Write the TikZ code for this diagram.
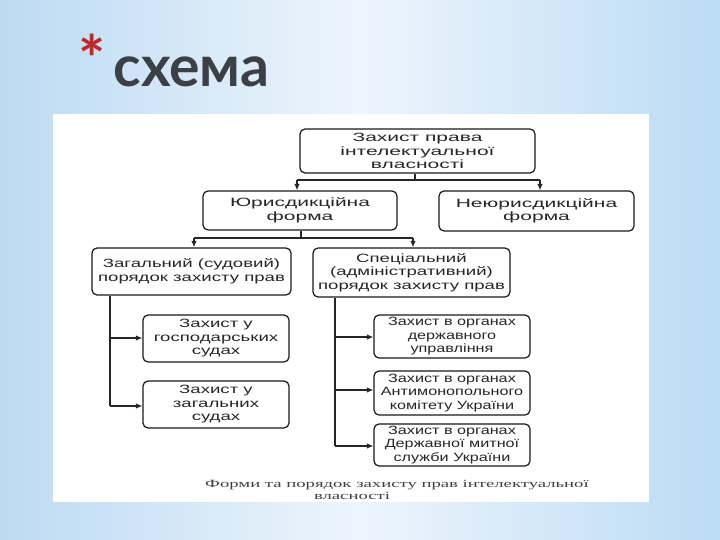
\documentclass[tikz,border=0pt]{standalone}
\usepackage{fontspec}
\setmainfont{Liberation Sans}
\newfontfamily\fbig[FakeStretch=1.75]{Liberation Sans}
\newfontfamily\fmed[FakeStretch=1.55]{Liberation Sans}
\newfontfamily\fsmall[FakeStretch=1.35]{Liberation Sans}
\newfontfamily\fcap[FakeStretch=1.7]{Liberation Serif}
\newfontfamily\ftitle{Lato}
\usetikzlibrary{arrows.meta}
\definecolor{bgL}{HTML}{BDDAF3}
\definecolor{bgM}{HTML}{EDF5FC}
\definecolor{bgR}{HTML}{BCDBF5}
\definecolor{titlegray}{HTML}{3B4046}
\definecolor{starred}{HTML}{C0272D}
\tikzset{
  box/.style={draw=black!90, line width=1.2pt, rounded corners=5pt, align=center,
    inner sep=0pt, text=black!85},
  big/.style={box, font=\fbig\fontsize{12}{13.5}\selectfont},
  med/.style={box, font=\fmed\fontsize{12}{13.5}\selectfont},
  small/.style={box, font=\fsmall\fontsize{12}{13.5}\selectfont},
  con/.style={line width=1.2pt, draw=black!85},
  arr/.style={con, -{Latex[length=6.5pt,width=5.5pt]}},
}
\begin{document}
\begin{tikzpicture}[x=1pt,y=-1pt]
\useasboundingbox (0,0) rectangle (720,540);
\shade[left color=bgL, right color=bgR, middle color=bgM] (0,0) rectangle (720,540);
\fill[white] (53,114) rectangle (649,502);
% title
\node[text=starred, font=\ftitle\bfseries\fontsize{64}{64}\selectfont] (star) at (92,58) {*};
\node[anchor=base west, text=titlegray, font=\ftitle\bfseries\fontsize{57}{57}\selectfont] (title) at (110,87) {схема};
% boxes
\node[big, minimum width=235pt, minimum height=44pt] (b1) at (417.5,151) {Захист права\\інтелектуальної\\власності};
\node[big, minimum width=194pt, minimum height=39pt] (b2) at (300,210.5) {Юрисдикційна\\форма};
\node[big, minimum width=195pt, minimum height=40pt] (b3) at (536.5,211) {Неюрисдикційна\\форма};
\node[med, minimum width=199pt, minimum height=47pt] (b4) at (191.5,271.5) {Загальний (судовий)\\порядок захисту прав};
\node[med, minimum width=197pt, minimum height=49pt] (b5) at (411.5,272.5) {Спеціальний\\(адміністративний)\\порядок захисту прав};
\node[med, minimum width=146pt, minimum height=47pt] (b6) at (216,338.5) {Захист у\\господарських\\судах};
\node[med, minimum width=146pt, minimum height=47pt] (b7) at (216,404.5) {Захист у\\загальних\\судах};
\node[small, minimum width=156pt, minimum height=43pt] (b8) at (452,336.5) {Захист в органах\\державного\\управління};
\node[small, minimum width=156pt, minimum height=44pt] (b9) at (452,393) {Захист в органах\\Антимонопольного\\комітету України};
\node[small, minimum width=156pt, minimum height=42pt] (b10) at (452,445) {Захист в органах\\Державної митної\\служби України};
% caption
\node[text=black!75, font=\fcap\fontsize{11}{12}\selectfont] (cap1) at (397,485) {Форми та порядок захисту прав інтелектуальної};
\node[text=black!75, font=\fcap\fontsize{11}{12}\selectfont] (cap2) at (352,496) {власності};
% connectors level 1
\coordinate (j1) at (415,180);
\coordinate (j1l) at (297,180);
\coordinate (j1r) at (540,180);
\draw[con] (b1.south -| j1) -- (j1);
\draw[con] (j1l) -- (j1r);
\draw[arr] (j1l) -- (b2.north -| j1l);
\draw[arr] (j1r) -- (b3.north -| j1r);
% level 2
\coordinate (j2) at (301,238);
\coordinate (j2l) at (194,238);
\coordinate (j2r) at (413,238);
\draw[con] (b2.south -| j2) -- (j2);
\draw[con] (j2l) -- (j2r);
\draw[arr] (j2l) -- (b4.north -| j2l);
\draw[arr] (j2r) -- (b5.north -| j2r);
% left branch
\coordinate (vl) at (110,406);
\coordinate (vl1) at (110,338);
\draw[con] (b4.south -| vl) -- (vl);
\draw[arr] (vl1) -- (b6.west |- vl1);
\draw[arr] (vl) -- (b7.west |- vl);
% right branch
\coordinate (vr) at (335,446);
\coordinate (vr1) at (335,337);
\coordinate (vr2) at (335,390);
\draw[con] (b5.south -| vr) -- (vr);
\draw[arr] (vr1) -- (b8.west |- vr1);
\draw[arr] (vr2) -- (b9.west |- vr2);
\draw[arr] (vr) -- (b10.west |- vr);
\end{tikzpicture}
\end{document}
